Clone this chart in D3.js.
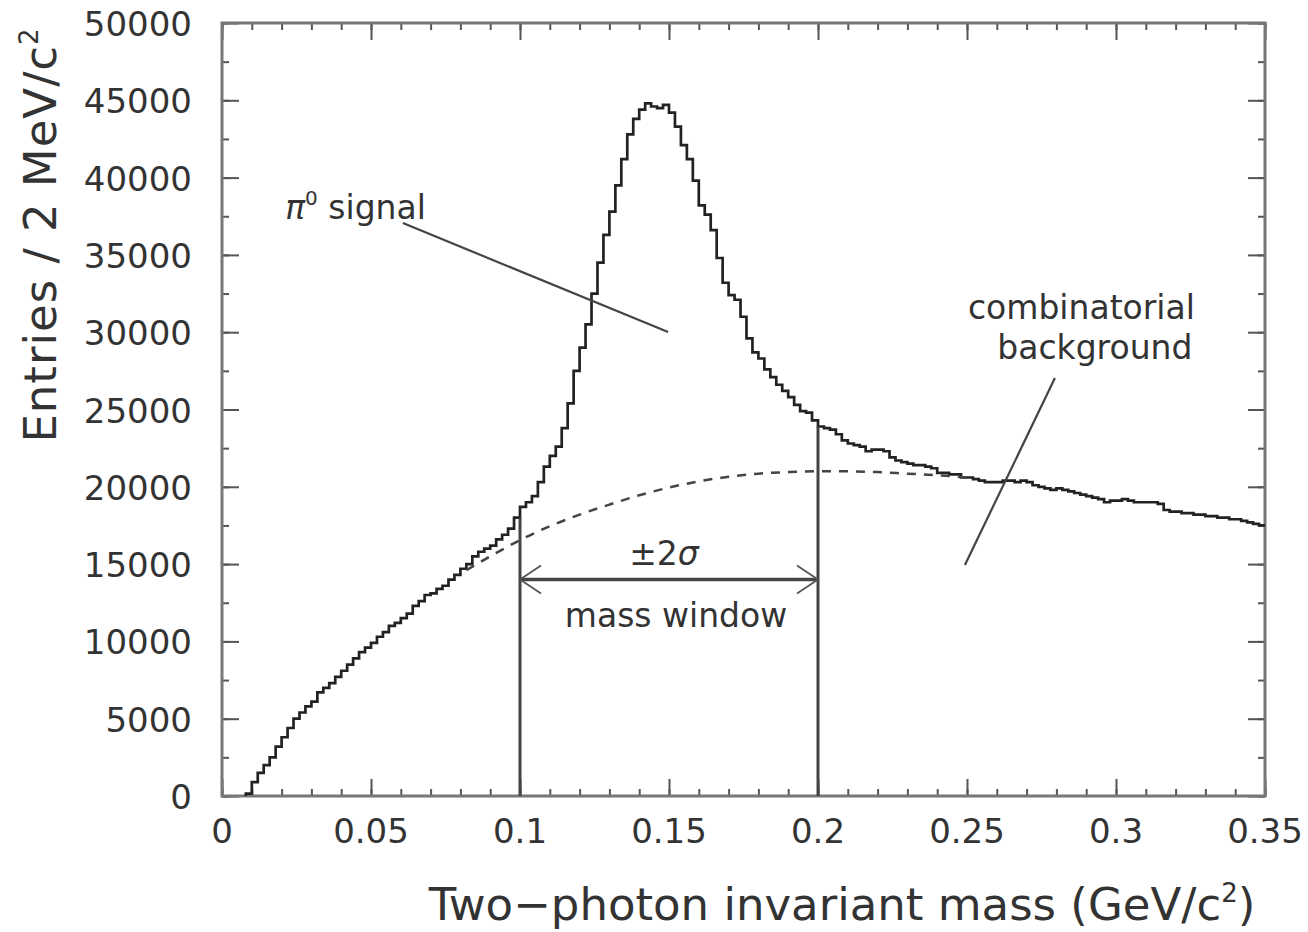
<!DOCTYPE html>
<html>
<head>
<meta charset="utf-8">
<script src="https://cdn.jsdelivr.net/npm/d3@7"></script>
<style>
  body { margin: 0; background: #fff; }
  text { font-family: 'DejaVu Sans', sans-serif; fill: #333; }
</style>
</head>
<body>
<svg id="chart"></svg>
<script>
// ---- DATA ----
const binWidth = 0.002; // 2 MeV bins, lower edges start at 0

// entries per 2 MeV bin, 175 bins from 0 to 0.35 GeV
const entries = [
  0, 0, 0, 0, 150, 900, 1500, 2000, 2500, 3200,
  3800, 4400, 5000, 5400, 5800, 6100, 6700, 7000, 7300, 7700,
  8100, 8500, 8900, 9300, 9600, 9900, 10300, 10600, 11000, 11200,
  11500, 11800, 12300, 12600, 13000, 13100, 13400, 13600, 14000, 14300,
  14700, 15000, 15500, 15800, 16000, 16200, 16600, 16900, 17300, 18000,
  18700, 19000, 19400, 20300, 21300, 22000, 22600, 23800, 25400, 27500,
  29000, 30500, 32500, 34500, 36300, 37800, 39500, 41200, 42800, 43800,
  44400, 44800, 44600, 44500, 44700, 44200, 43300, 42100, 41200, 39800,
  38200, 37600, 36600, 34800, 33200, 32400, 32100, 31000, 29600, 28700,
  28300, 27600, 27100, 26600, 26200, 25800, 25300, 24900, 24800, 24300,
  23900, 23800, 23700, 23400, 23000, 22800, 22700, 22600, 22300, 22400,
  22400, 22300, 21900, 21700, 21600, 21500, 21400, 21400, 21300, 21200,
  20900, 20900, 20800, 20800, 20600, 20600, 20500, 20400, 20300, 20300,
  20300, 20400, 20400, 20300, 20400, 20300, 20100, 20000, 19900, 19800,
  19900, 19800, 19700, 19600, 19500, 19400, 19300, 19200, 19000, 19100,
  19100, 19200, 19100, 19000, 19000, 19000, 19000, 18900, 18500, 18400,
  18400, 18300, 18300, 18200, 18200, 18100, 18100, 18000, 18000, 17900,
  17900, 17800, 17700, 17600, 17500
];

// combinatorial background (dashed curve)
const backgroundMass = [0.082, 0.09, 0.1, 0.11, 0.12, 0.13, 0.14, 0.15, 0.16,
  0.17, 0.18, 0.19, 0.2, 0.21, 0.22, 0.23, 0.24, 0.25];
const backgroundEntries = [14600, 15500, 16550, 17450, 18200, 18850, 19450, 19950, 20350,
  20650, 20850, 20950, 21000, 21000, 20950, 20850, 20750, 20600];

const massWindow = [0.1, 0.2];

const xTicks = [0, 0.05, 0.1, 0.15, 0.2, 0.25, 0.3, 0.35];
const xTickLabels = ['0', '0.05', '0.1', '0.15', '0.2', '0.25', '0.3', '0.35'];
const yTicks = [0, 5000, 10000, 15000, 20000, 25000, 30000, 35000, 40000, 45000, 50000];
const yTickLabels = ['0', '5000', '10000', '15000', '20000', '25000', '30000', '35000', '40000', '45000', '50000'];


class InvariantMassPlot {

  constructor(_config) {
    this.config = {
      parentElement: _config.parentElement,
      containerWidth: _config.containerWidth || 1308,
      containerHeight: _config.containerHeight || 932,
      margin: {top: 23, right: 43, bottom: 136, left: 222}
    };
    this.initVis();
  }

  initVis() {
    let vis = this;

    vis.width = vis.config.containerWidth - vis.config.margin.left - vis.config.margin.right;
    vis.height = vis.config.containerHeight - vis.config.margin.top - vis.config.margin.bottom;

    vis.svg = d3.select(vis.config.parentElement)
      .attr('width', vis.config.containerWidth)
      .attr('height', vis.config.containerHeight);

    vis.chart = vis.svg.append('g')
      .attr('transform', `translate(${vis.config.margin.left}, ${vis.config.margin.top})`);

    vis.xScale = d3.scaleLinear()
      .domain([0, 0.35])
      .range([0, vis.width]);

    vis.yScale = d3.scaleLinear()
      .domain([0, 50000])
      .range([vis.height, 0]);

    vis.drawAxes();
    vis.updateVis();
  }

  drawAxes() {
    let vis = this;
    const majorLen = 17, minorLen = 7;
    const xMinor = d3.range(0, 0.3501, 0.01);
    const yMinor = d3.range(0, 50001, 2500);

    // inward ticks on all four sides (minor first, major on top)
    const addTicks = (axisFn, scale, values, len, transform) => {
      vis.chart.append('g')
        .attr('class', 'ticks')
        .attr('transform', transform)
        .call(axisFn(scale).tickValues(values).tickSize(-len).tickFormat(''))
        .call(g => g.select('.domain').remove());
    };
    addTicks(d3.axisBottom, vis.xScale, xMinor, minorLen, `translate(0,${vis.height})`);
    addTicks(d3.axisBottom, vis.xScale, xTicks, majorLen, `translate(0,${vis.height})`);
    addTicks(d3.axisTop, vis.xScale, xMinor, minorLen, 'translate(0,0)');
    addTicks(d3.axisTop, vis.xScale, xTicks, majorLen, 'translate(0,0)');
    addTicks(d3.axisLeft, vis.yScale, yMinor, minorLen, 'translate(0,0)');
    addTicks(d3.axisLeft, vis.yScale, yTicks, majorLen, 'translate(0,0)');
    addTicks(d3.axisRight, vis.yScale, yMinor, minorLen, `translate(${vis.width},0)`);
    addTicks(d3.axisRight, vis.yScale, yTicks, majorLen, `translate(${vis.width},0)`);

    vis.chart.selectAll('.ticks line')
      .attr('stroke', '#555')
      .attr('stroke-width', 2);

    // frame
    vis.chart.append('rect')
      .attr('width', vis.width)
      .attr('height', vis.height)
      .attr('fill', 'none')
      .attr('stroke', '#777')
      .attr('stroke-width', 3);

    // tick labels
    vis.chart.selectAll('.x-label')
      .data(xTicks)
      .join('text')
      .attr('class', 'x-label')
      .attr('x', d => vis.xScale(d))
      .attr('y', vis.height + 47)
      .attr('text-anchor', 'middle')
      .attr('font-size', 34)
      .text((d, i) => xTickLabels[i]);

    vis.chart.selectAll('.y-label')
      .data(yTicks)
      .join('text')
      .attr('class', 'y-label')
      .attr('x', -30)
      .attr('y', d => vis.yScale(d) + 13)
      .attr('text-anchor', 'end')
      .attr('font-size', 34)
      .text((d, i) => yTickLabels[i]);

    // axis titles
    const xTitle = vis.svg.append('text')
      .attr('x', 842)
      .attr('y', 920)
      .attr('text-anchor', 'middle')
      .attr('font-size', 45);
    xTitle.append('tspan').text('Two\u2212photon invariant mass (GeV/c');
    xTitle.append('tspan').attr('font-size', 26).attr('dy', -18).text('2');
    xTitle.append('tspan').attr('dy', 18).text(')');

    const yTitle = vis.svg.append('text')
      .attr('transform', 'translate(56, 235) rotate(-90)')
      .attr('text-anchor', 'middle')
      .attr('font-size', 45)
      .attr('letter-spacing', 1);
    yTitle.append('tspan').text('Entries / 2 MeV/c');
    yTitle.append('tspan').attr('font-size', 26).attr('dy', -18).text('2');
  }

  updateVis() {
    let vis = this;
    const x = vis.xScale, y = vis.yScale;

    // ---- HISTOGRAM (step outline, starting at the first filled bin) ----
    const first = entries.findIndex(v => v > 0);
    const steps = [[first * binWidth, 0]];
    entries.forEach((v, i) => { if (i >= first) steps.push([i * binWidth, v]); });
    steps.push([entries.length * binWidth, entries[entries.length - 1]]);

    vis.chart.append('path')
      .datum(steps)
      .attr('fill', 'none')
      .attr('stroke', '#222')
      .attr('stroke-width', 2.7)
      .attr('d', d3.line().x(d => x(d[0])).y(d => y(d[1])).curve(d3.curveStepAfter));

    // ---- BACKGROUND (dashed) ----
    const bg = backgroundMass.map((m, i) => [m, backgroundEntries[i]]);
    vis.chart.append('path')
      .datum(bg)
      .attr('fill', 'none')
      .attr('stroke', '#444')
      .attr('stroke-width', 2.5)
      .attr('stroke-dasharray', '9,8')
      .attr('d', d3.line().x(d => x(d[0])).y(d => y(d[1])).curve(d3.curveMonotoneX));

    // ---- MASS WINDOW ----
    const binValue = m => entries[Math.min(entries.length - 1, Math.floor(m / binWidth + 1e-9))];
    vis.chart.selectAll('.window-line')
      .data(massWindow)
      .join('line')
      .attr('class', 'window-line')
      .attr('x1', d => x(d)).attr('x2', d => x(d))
      .attr('y1', y(0))
      .attr('y2', (d, i) => y(i === 0 ? binValue(d - binWidth) : binValue(d)))
      .attr('stroke', '#444')
      .attr('stroke-width', 3);

    const arrowY = y(14000);
    const xa = x(massWindow[0]), xb = x(massWindow[1]);
    vis.chart.append('line')
      .attr('x1', xa).attr('x2', xb)
      .attr('y1', arrowY).attr('y2', arrowY)
      .attr('stroke', '#444')
      .attr('stroke-width', 3.5);

    // open chevron heads at both ends
    [[xa, 1], [xb, -1]].forEach(([px, dir]) => {
      vis.chart.append('path')
        .attr('d', `M${px + dir * 21},${arrowY - 14}L${px},${arrowY}L${px + dir * 21},${arrowY + 14}`)
        .attr('fill', 'none')
        .attr('stroke', '#555')
        .attr('stroke-width', 1.8);
    });

    const sigma = vis.chart.append('text')
      .attr('x', (xa + xb) / 2 - 5)
      .attr('y', arrowY - 15)
      .attr('text-anchor', 'middle')
      .attr('font-size', 33);
    sigma.append('tspan').text('\u00b12');
    sigma.append('tspan').attr('font-style', 'italic').text('\u03c3');

    vis.chart.append('text')
      .attr('x', (xa + xb) / 2 + 7)
      .attr('y', arrowY + 47)
      .attr('text-anchor', 'middle')
      .attr('font-size', 33)
      .text('mass window');

    // ---- ANNOTATIONS ----
    const pointer = (m0, e0, m1, e1) => vis.chart.append('line')
      .attr('x1', x(m0)).attr('y1', y(e0))
      .attr('x2', x(m1)).attr('y2', y(e1))
      .attr('stroke', '#444')
      .attr('stroke-width', 2.2);

    pointer(0.0607, 37060, 0.1497, 30010);
    pointer(0.2795, 27040, 0.2493, 14940);

    const sig = vis.chart.append('text')
      .attr('x', x(0.0212))
      .attr('y', y(37340))
      .attr('font-size', 33);
    sig.append('tspan').attr('font-style', 'italic').text('\u03c0');
    sig.append('tspan').attr('font-size', 20).attr('dy', -14).text('0');
    sig.append('tspan').attr('dy', 14).text(' signal');

    vis.chart.append('text')
      .attr('x', x(0.2884))
      .attr('y', y(30870))
      .attr('text-anchor', 'middle')
      .attr('font-size', 33)
      .text('combinatorial');

    vis.chart.append('text')
      .attr('x', x(0.2929))
      .attr('y', y(28280))
      .attr('text-anchor', 'middle')
      .attr('font-size', 33)
      .text('background');
  }
}

new InvariantMassPlot({ parentElement: '#chart' });
</script>
</body>
</html>
